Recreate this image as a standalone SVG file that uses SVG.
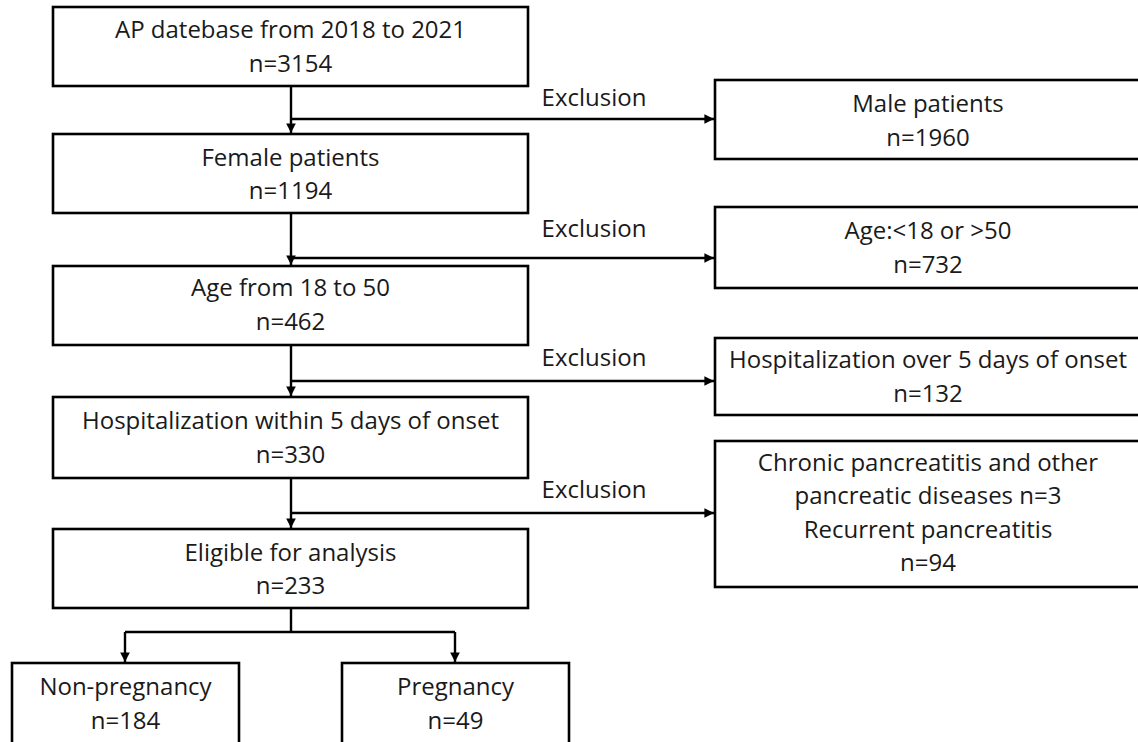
<svg xmlns="http://www.w3.org/2000/svg" width="1138" height="742" viewBox="0 0 1138 742">
<style>
.box{fill:#fff;stroke:#000;stroke-width:2.6}
.t{font-family:"Open Sans","Liberation Sans",sans-serif;font-size:24px;fill:#1a1a1a;text-anchor:middle}
.c{fill:none;stroke:#000;stroke-width:2.4}
</style>
<defs>
<marker id="ah" viewBox="0 0 10 10" refX="10" refY="5" markerWidth="4" markerHeight="4" orient="auto" markerUnits="strokeWidth">
<path d="M0,0 L10,5 L0,10 z" fill="#000"/>
</marker>
</defs>
<rect width="1138" height="742" fill="#fff"/>
<g id="connectors">
<path class="c" d="M291,86 V133" marker-end="url(#ah)"/>
<path class="c" d="M291,119 H714" marker-end="url(#ah)"/>
<path class="c" d="M291,213 V265" marker-end="url(#ah)"/>
<path class="c" d="M291,258 H714" marker-end="url(#ah)"/>
<path class="c" d="M291,345 V396" marker-end="url(#ah)"/>
<path class="c" d="M291,381 H714" marker-end="url(#ah)"/>
<path class="c" d="M291,478 V528" marker-end="url(#ah)"/>
<path class="c" d="M291,513 H714" marker-end="url(#ah)"/>
<path class="c" d="M291,608 V632"/>
<path class="c" d="M125,632 H455"/>
<path class="c" d="M125,632 V662" marker-end="url(#ah)"/>
<path class="c" d="M455,632 V662" marker-end="url(#ah)"/>
<text class="t" x="594" y="106">Exclusion</text>
<text class="t" x="594" y="237">Exclusion</text>
<text class="t" x="594" y="366">Exclusion</text>
<text class="t" x="594" y="498">Exclusion</text>
</g>
<g id="n1"><rect class="box" x="53" y="7" width="475" height="79"/><text class="t" x="290.5" y="38">AP datebase from 2018 to 2021</text><text class="t" x="290.5" y="72">n=3154</text></g>
<g id="n2"><rect class="box" x="53" y="134" width="475" height="79"/><text class="t" x="290.5" y="166">Female patients</text><text class="t" x="290.5" y="199">n=1194</text></g>
<g id="n3"><rect class="box" x="53" y="266" width="475" height="79"/><text class="t" x="290.5" y="296">Age from 18 to 50</text><text class="t" x="290.5" y="330">n=462</text></g>
<g id="n4"><rect class="box" x="53" y="397" width="475" height="81"/><text class="t" x="290.5" y="429">Hospitalization within 5 days of onset</text><text class="t" x="290.5" y="463">n=330</text></g>
<g id="n5"><rect class="box" x="53" y="529" width="475" height="79"/><text class="t" x="290.5" y="561">Eligible for analysis</text><text class="t" x="290.5" y="594">n=233</text></g>
<g id="n6"><rect class="box" x="12" y="663" width="227" height="100"/><text class="t" x="125.5" y="695">Non-pregnancy</text><text class="t" x="125.5" y="729">n=184</text></g>
<g id="n7"><rect class="box" x="342" y="663" width="227" height="100"/><text class="t" x="455.5" y="695">Pregnancy</text><text class="t" x="455.5" y="729">n=49</text></g>
<g id="e1"><rect class="box" x="715" y="80" width="430" height="79"/><text class="t" x="928" y="112">Male patients</text><text class="t" x="928" y="146">n=1960</text></g>
<g id="e2"><rect class="box" x="715" y="207" width="430" height="81"/><text class="t" x="928" y="239">Age:&lt;18 or &gt;50</text><text class="t" x="928" y="273">n=732</text></g>
<g id="e3"><rect class="box" x="715" y="338" width="430" height="77"/><text class="t" x="928" y="368">Hospitalization over 5 days of onset</text><text class="t" x="928" y="402">n=132</text></g>
<g id="e4"><rect class="box" x="715" y="441" width="430" height="146"/><text class="t" x="928" y="471">Chronic pancreatitis and other</text><text class="t" x="928" y="504">pancreatic diseases n=3</text><text class="t" x="928" y="538">Recurrent pancreatitis</text><text class="t" x="928" y="571">n=94</text></g>
</svg>
